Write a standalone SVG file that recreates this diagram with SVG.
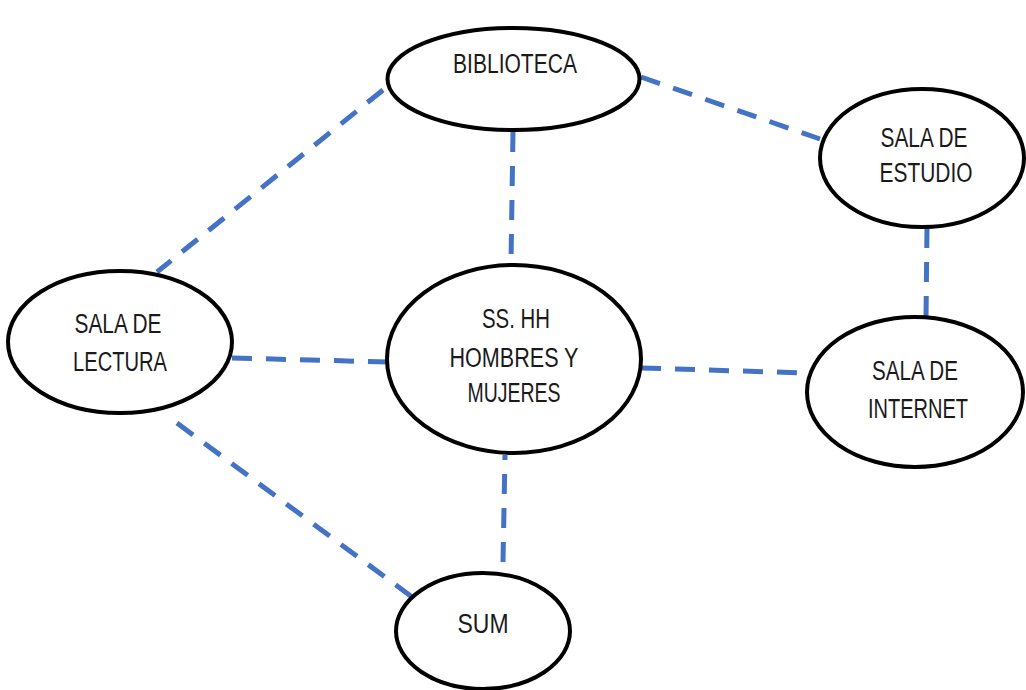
<svg xmlns="http://www.w3.org/2000/svg" width="1026" height="690" viewBox="0 0 1026 690">
<style>
.node ellipse{fill:#fff;stroke:#000;stroke-width:4}
.node text{font-family:"Liberation Sans",Arial,sans-serif;font-size:27px;fill:#1a1a1a;text-anchor:middle}
#connectors line{stroke:#4472C4;stroke-width:5;stroke-dasharray:20 14;fill:none}
</style>
<rect width="1026" height="690" fill="#fff"/>
<g id="connectors">
<line x1="383" y1="90" x2="157" y2="272"/>
<line x1="513" y1="132" x2="511" y2="263"/>
<line x1="641" y1="77" x2="820" y2="139"/>
<line x1="927" y1="228" x2="926" y2="318"/>
<line x1="232" y1="358" x2="388" y2="362"/>
<line x1="641" y1="368" x2="808" y2="373"/>
<line x1="503" y1="562" x2="505" y2="455"/>
<line x1="177" y1="423" x2="412" y2="597"/>
</g>
<g id="biblioteca" class="node">
<ellipse cx="513.5" cy="79" rx="126" ry="51"/>
<text x="515" y="73" textLength="124" lengthAdjust="spacingAndGlyphs">BIBLIOTECA</text>
</g>
<g id="sala-estudio" class="node">
<ellipse cx="922" cy="158" rx="102" ry="69"/>
<text x="924" y="147" textLength="87" lengthAdjust="spacingAndGlyphs">SALA DE</text>
<text x="926" y="182" textLength="93" lengthAdjust="spacingAndGlyphs">ESTUDIO</text>
</g>
<g id="sala-lectura" class="node">
<ellipse cx="120" cy="342" rx="112" ry="71"/>
<text x="118" y="333" textLength="87" lengthAdjust="spacingAndGlyphs">SALA DE</text>
<text x="120" y="371" textLength="94" lengthAdjust="spacingAndGlyphs">LECTURA</text>
</g>
<g id="sshh" class="node">
<ellipse cx="514" cy="359" rx="127" ry="94"/>
<text x="516" y="328" textLength="68" lengthAdjust="spacingAndGlyphs">SS. HH</text>
<text x="514" y="367" textLength="129" lengthAdjust="spacingAndGlyphs">HOMBRES Y</text>
<text x="514" y="402" textLength="93" lengthAdjust="spacingAndGlyphs">MUJERES</text>
</g>
<g id="sala-internet" class="node">
<ellipse cx="915" cy="392" rx="108" ry="75"/>
<text x="915" y="380" textLength="86" lengthAdjust="spacingAndGlyphs">SALA DE</text>
<text x="918" y="418" textLength="100" lengthAdjust="spacingAndGlyphs">INTERNET</text>
</g>
<g id="sum" class="node">
<ellipse cx="483" cy="631" rx="87" ry="58"/>
<text x="483" y="633" textLength="51" lengthAdjust="spacingAndGlyphs">SUM</text>
</g>
</svg>
